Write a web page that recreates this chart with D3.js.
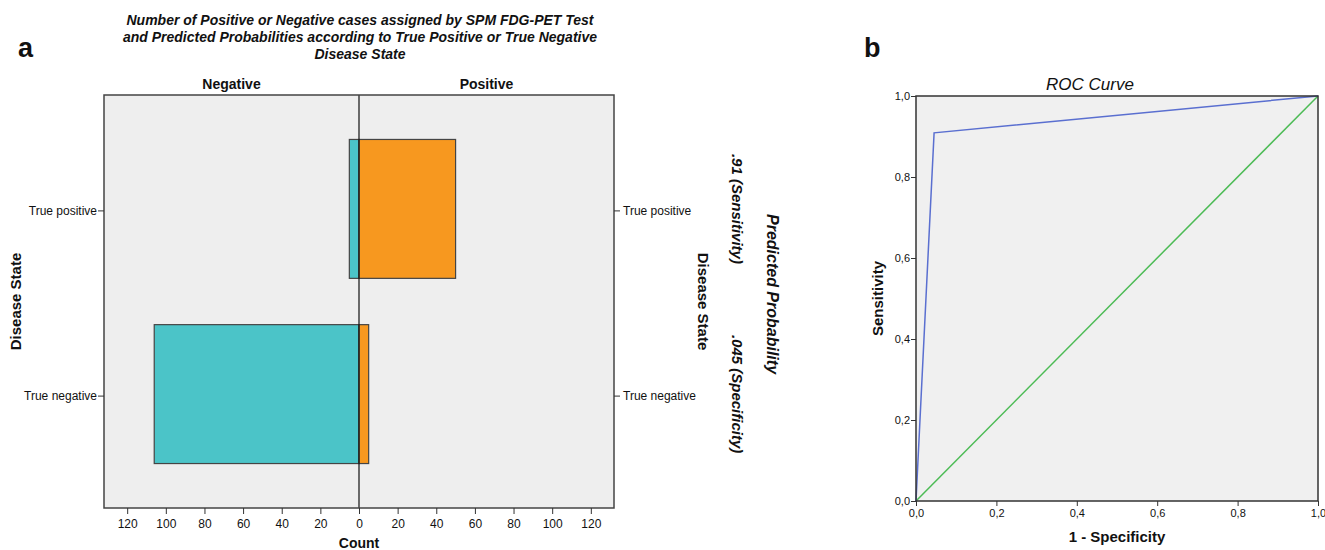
<!DOCTYPE html>
<html>
<head>
<meta charset="utf-8">
<script src="https://cdn.jsdelivr.net/npm/d3@7"></script>
<style>
  body { margin: 0; background: #fff; }
  text { font-family: "Liberation Sans Narrow", "Liberation Sans", Arial, sans-serif; fill: #111; }
  .bold { font-weight: bold; font-family: "Liberation Sans", Arial, sans-serif; }
</style>
</head>
<body>
<svg id="fig" width="1325" height="550"></svg>
<script>
// ---- data ----
const categories = ["True positive", "True negative"];
const negativeCounts = [5, 106];
const positiveCounts = [50, 5];
const countTicks = [-120, -100, -80, -60, -40, -20, 0, 20, 40, 60, 80, 100, 120];
const probLabels = [".91 (Sensitivity)", ".045 (Specificity)"];
const titleLines = [
  "Number of Positive or Negative cases assigned by SPM FDG-PET Test",
  "and Predicted Probabilities according to True Positive or True Negative",
  "Disease State"
];

const rocFpr = [0, 0.045, 1];
const rocTpr = [0, 0.909, 1];
const refFpr = [0, 1];
const refTpr = [0, 1];
const rocTicks = [0, 0.2, 0.4, 0.6, 0.8, 1.0];

const svg = d3.select('#fig');
svg.append('rect').attr('width', 1325).attr('height', 550).attr('fill', '#fff');

// panel letters
svg.append('text').attr('class', 'bold').attr('x', 18).attr('y', 57)
  .style('font-size', '27px').text('a');
svg.append('text').attr('class', 'bold').attr('x', 864).attr('y', 57)
  .style('font-size', '27px').text('b');

////////////////////// PANEL A //////////////////////
const A = { left: 104, right: 614, top: 95, bottom: 508 };

let xA = d3.scaleLinear().domain([-132, 132]).range([A.left, A.right]);
let yA = d3.scaleBand().domain(categories).range([A.top, A.bottom])
  .paddingInner(0.25).paddingOuter(0.24);

// title
svg.append('g').selectAll('text')
  .data(titleLines)
  .enter()
  .append('text')
  .attr('x', 360)
  .attr('y', (d, i) => 25 + i * 17)
  .attr('text-anchor', 'middle')
  .style('font-size', '14px')
  .style('font-weight', 'bold')
  .style('font-style', 'italic')
  .text(d => d);

// panel headers
svg.append('text').attr('class', 'bold')
  .attr('x', (xA(-132) + xA(0)) / 2).attr('y', 89)
  .attr('text-anchor', 'middle').style('font-size', '14px').text('Negative');
svg.append('text').attr('class', 'bold')
  .attr('x', (xA(0) + xA(132)) / 2).attr('y', 89)
  .attr('text-anchor', 'middle').style('font-size', '14px').text('Positive');

// plot background
svg.append('rect')
  .attr('x', A.left).attr('y', A.top)
  .attr('width', A.right - A.left).attr('height', A.bottom - A.top)
  .attr('fill', '#eeeeee');

// bars
let barsA = svg.append('g');
barsA.selectAll('rect.neg')
  .data(categories)
  .enter()
  .append('rect')
  .attr('class', 'neg')
  .attr('x', (d, i) => xA(-negativeCounts[i]))
  .attr('y', d => yA(d))
  .attr('width', (d, i) => xA(0) - xA(-negativeCounts[i]))
  .attr('height', yA.bandwidth())
  .attr('fill', '#4bc4c8')
  .attr('stroke', '#444')
  .attr('stroke-width', 1.2);

barsA.selectAll('rect.pos')
  .data(categories)
  .enter()
  .append('rect')
  .attr('class', 'pos')
  .attr('x', xA(0))
  .attr('y', d => yA(d))
  .attr('width', (d, i) => xA(positiveCounts[i]) - xA(0))
  .attr('height', yA.bandwidth())
  .attr('fill', '#f7981f')
  .attr('stroke', '#444')
  .attr('stroke-width', 1.2);

// zero line
svg.append('line')
  .attr('x1', xA(0)).attr('x2', xA(0))
  .attr('y1', A.top).attr('y2', A.bottom)
  .attr('stroke', '#111').attr('stroke-width', 1.2);

// border
svg.append('rect')
  .attr('x', A.left).attr('y', A.top)
  .attr('width', A.right - A.left).attr('height', A.bottom - A.top)
  .attr('fill', 'none').attr('stroke', '#444').attr('stroke-width', 1.5);

// axes
let xAxisA = d3.axisBottom(xA)
  .tickValues(countTicks)
  .tickFormat(d => Math.abs(d))
  .tickSize(6).tickSizeOuter(0);
let gxA = svg.append('g')
  .attr('transform', `translate(0, ${A.bottom})`)
  .call(xAxisA);
gxA.select('.domain').remove();
gxA.selectAll('text').style('font-size', '12px').attr('dy', '0.9em').attr('fill', '#111');
gxA.selectAll('line').attr('stroke', '#333');

let yAxisL = d3.axisLeft(yA).tickSize(6).tickSizeOuter(0);
let gyL = svg.append('g').attr('transform', `translate(${A.left}, 2)`).call(yAxisL);
gyL.select('.domain').remove();
gyL.selectAll('text').style('font-size', '12px').attr('x', -7).attr('fill', '#111');
gyL.selectAll('line').attr('stroke', '#333');

let yAxisR = d3.axisRight(yA).tickSize(6).tickSizeOuter(0);
let gyR = svg.append('g').attr('transform', `translate(${A.right}, 2)`).call(yAxisR);
gyR.select('.domain').remove();
gyR.selectAll('text').style('font-size', '12px').attr('x', 9).attr('fill', '#111');
gyR.selectAll('line').attr('stroke', '#333');

// axis labels
svg.append('text').attr('class', 'bold')
  .attr('x', xA(0)).attr('y', 548)
  .attr('text-anchor', 'middle').style('font-size', '14px').text('Count');

svg.append('text').attr('class', 'bold')
  .attr('transform', `translate(21, ${(A.top + A.bottom) / 2}) rotate(-90)`)
  .attr('text-anchor', 'middle').style('font-size', '15px').text('Disease State');

svg.append('text').attr('class', 'bold')
  .attr('transform', `translate(698, ${(A.top + A.bottom) / 2}) rotate(90)`)
  .attr('text-anchor', 'middle').style('font-size', '15px').text('Disease State');

// predicted probabilities
svg.append('g').selectAll('text')
  .data(categories)
  .enter()
  .append('text')
  .attr('transform', (d, i) => `translate(732, ${yA(d) + yA.bandwidth() / 2}) rotate(90)`)
  .attr('text-anchor', 'middle')
  .style('font-size', '15px')
  .style('font-weight', 'bold')
  .style('font-style', 'italic')
  .text((d, i) => probLabels[i]);

svg.append('text')
  .attr('transform', `translate(767, 294) rotate(90)`)
  .attr('text-anchor', 'middle')
  .style('font-size', '16px')
  .style('font-weight', 'bold')
  .style('font-style', 'italic')
  .text('Predicted Probability');

////////////////////// PANEL B //////////////////////
const B = { left: 916, right: 1318, top: 96, bottom: 501 };
const commaLocale = d3.formatLocale({ decimal: ',', thousands: '.', grouping: [3], currency: ['', ''] });
const fmt = commaLocale.format('.1f');

let xB = d3.scaleLinear().domain([0, 1]).range([B.left, B.right]);
let yB = d3.scaleLinear().domain([0, 1]).range([B.bottom, B.top]);

svg.append('text')
  .attr('x', 1090).attr('y', 90)
  .attr('text-anchor', 'middle')
  .style('font-size', '17px').style('font-style', 'italic')
  .style('font-family', '"Liberation Sans", Arial, sans-serif')
  .text('ROC Curve');

svg.append('rect')
  .attr('x', B.left).attr('y', B.top)
  .attr('width', B.right - B.left).attr('height', B.bottom - B.top)
  .attr('fill', '#f0f0f0');

let line = d3.line().x(d => xB(d[0])).y(d => yB(d[1]));

svg.append('path')
  .datum(refFpr.map((d, i) => [d, refTpr[i]]))
  .attr('d', line)
  .attr('fill', 'none').attr('stroke', '#4cbb55').attr('stroke-width', 1.5);

svg.append('path')
  .datum(rocFpr.map((d, i) => [d, rocTpr[i]]))
  .attr('d', line)
  .attr('fill', 'none').attr('stroke', '#5a6fd0').attr('stroke-width', 1.5);

svg.append('rect')
  .attr('x', B.left).attr('y', B.top)
  .attr('width', B.right - B.left).attr('height', B.bottom - B.top)
  .attr('fill', 'none').attr('stroke', '#333').attr('stroke-width', 1.5);

let xAxisB = d3.axisBottom(xB).tickValues(rocTicks).tickFormat(fmt).tickSize(5).tickSizeOuter(0);
let gxB = svg.append('g').attr('transform', `translate(0, ${B.bottom})`).call(xAxisB);
gxB.select('.domain').remove();
gxB.selectAll('text').style('font-size', '11px').attr('fill', '#111');
gxB.selectAll('line').attr('stroke', '#333');

let yAxisB = d3.axisLeft(yB).tickValues(rocTicks).tickFormat(fmt).tickSize(5).tickSizeOuter(0);
let gyB = svg.append('g').attr('transform', `translate(${B.left}, 0)`).call(yAxisB);
gyB.select('.domain').remove();
gyB.selectAll('text').style('font-size', '11px').attr('x', -6).attr('fill', '#111');
gyB.selectAll('line').attr('stroke', '#333');

svg.append('text').attr('class', 'bold')
  .attr('x', (B.left + B.right) / 2).attr('y', 542)
  .attr('text-anchor', 'middle').style('font-size', '15px').text('1 - Specificity');

svg.append('text').attr('class', 'bold')
  .attr('transform', `translate(883, ${(B.top + B.bottom) / 2}) rotate(-90)`)
  .attr('text-anchor', 'middle').style('font-size', '15px').text('Sensitivity');
</script>
</body>
</html>
